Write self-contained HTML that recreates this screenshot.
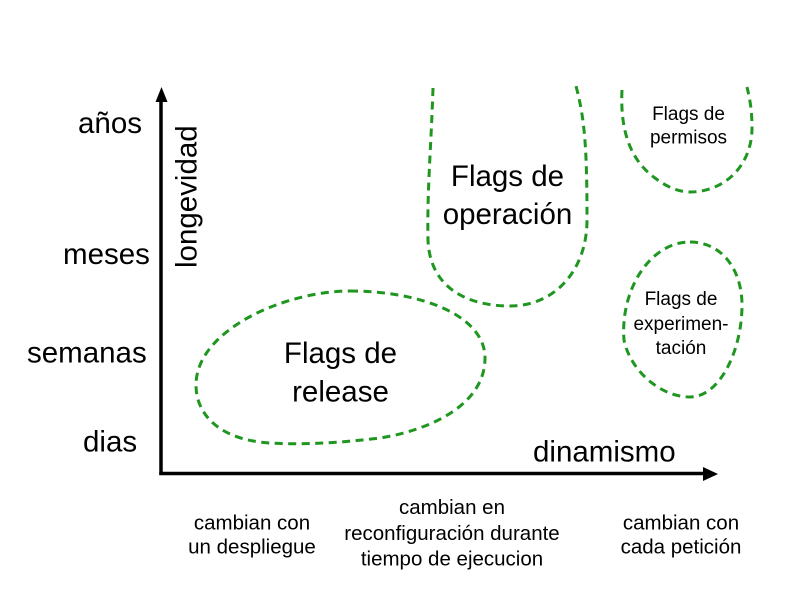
<!DOCTYPE html>
<html>
<head>
<meta charset="utf-8">
<style>
html,body{margin:0;padding:0;background:#fff;}
svg{display:block;}
text{font-family:"Liberation Sans", Arial, sans-serif;fill:#000;}
</style>
</head>
<body>
<svg width="800" height="593" viewBox="0 0 800 593" xmlns="http://www.w3.org/2000/svg">
  <rect width="800" height="593" fill="#fff"/>
  <!-- axes -->
  <line x1="161" y1="100" x2="161" y2="475" stroke="#000" stroke-width="3.5"/>
  <line x1="159.3" y1="473.5" x2="705" y2="473.5" stroke="#000" stroke-width="3.5"/>
  <polygon points="161.5,87 155.5,102 167.5,102" fill="#000"/>
  <polygon points="718,474 703,467 703,481" fill="#000"/>

  <!-- shapes -->
  <g fill="none" stroke="#1f961f" stroke-width="3" stroke-dasharray="8,5.5">
    <path d="M350,291 C420,291 485,315 485,358 C485,405 430,430 380,438 C340,443 300,445 270,443 C220,440 196,415 196,385 C196,330 285,291 350,291 Z"/>
    <path d="M433,88 C431,150 427,190 428,240 C430,290 470,306 510,306 C555,306 587,270 587,220 C587,150 585,120 576,86"/>
    <path d="M622,90 C620,130 630,160 655,178 C668,188 680,192 690,192 C725,192 752,165 752,128 C752,110 750,100 747,87"/>
    <path d="M690,242 C722,242 742,270 742,305 C742,350 720,397 690,397 C660,397 630,370 624,340 C620,290 650,242 690,242 Z"/>
  </g>

  <!-- y labels -->
  <g font-size="29.5">
    <text x="78" y="133">años</text>
    <text x="63" y="264">meses</text>
    <text x="27" y="362.5">semanas</text>
    <text x="83" y="451.5">dias</text>
    <text x="533" y="461.5">dinamismo</text>
    <text transform="translate(196.5,268) rotate(-90)">longevidad</text>
  </g>

  <!-- shape labels -->
  <g font-size="29.5" text-anchor="middle">
    <text x="340.5" y="363">Flags de</text>
    <text x="340.5" y="401.5">release</text>
    <text x="507.5" y="186">Flags de</text>
    <text x="507.5" y="224">operación</text>
  </g>
  <g font-size="19" text-anchor="middle">
    <text x="688.5" y="120">Flags de</text>
    <text x="688.5" y="143.3">permisos</text>
    <text x="681" y="305">Flags de</text>
    <text x="681" y="330">experimen-</text>
    <text x="681" y="354">tación</text>
  </g>

  <!-- bottom labels -->
  <g font-size="20.5" text-anchor="middle">
    <text x="252" y="529.5">cambian con</text>
    <text x="252" y="553.5">un despliegue</text>
    <text x="452" y="514">cambian en</text>
    <text x="452" y="540">reconfiguración durante</text>
    <text x="452" y="565.5">tiempo de ejecucion</text>
    <text x="681" y="529.5">cambian con</text>
    <text x="681" y="553.5">cada petición</text>
  </g>
</svg>
</body>
</html>
